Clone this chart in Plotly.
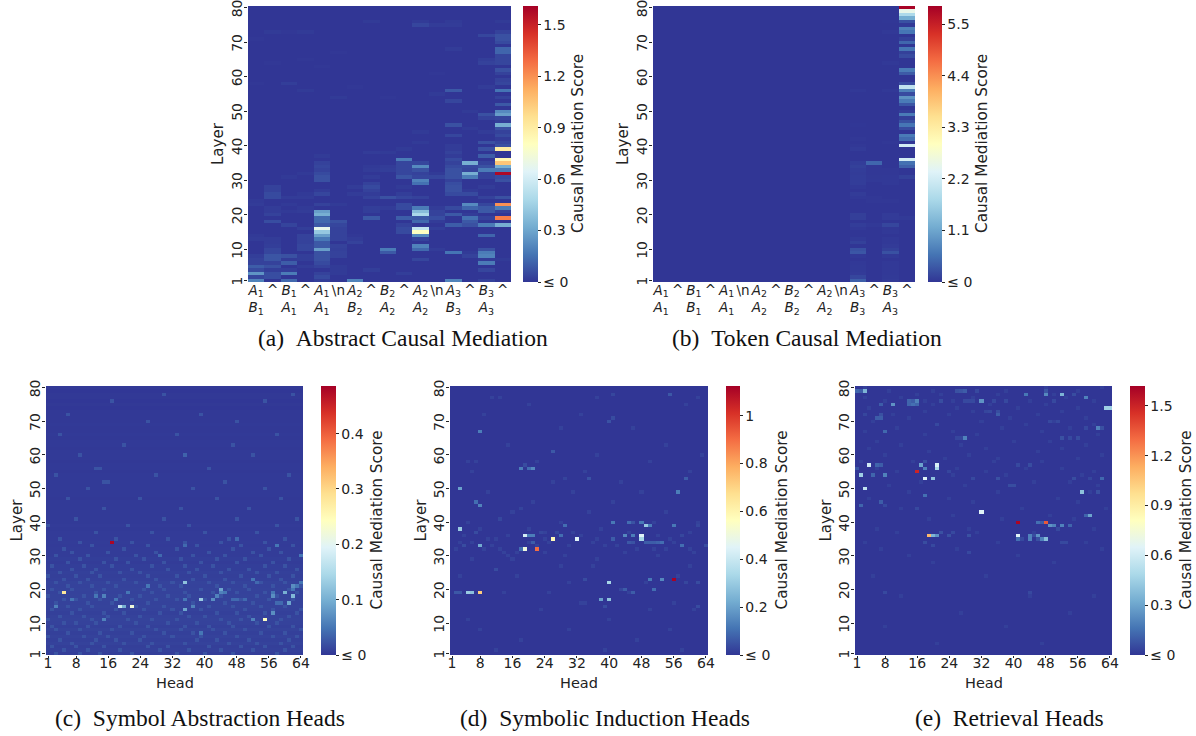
import plotly.graph_objects as go

W, H = 1196, 736
LAYER_TICKS = [1, 10, 20, 30, 40, 50, 60, 70, 80]
HEAD_TICKS = [1, 8, 16, 24, 32, 40, 48, 56, 64]
COLORSCALE = ["#313695", "#4575b4", "#74add1", "#abd9e9", "#e0f3f8", "#ffffbf",
              "#fee090", "#fdae61", "#f46d43", "#d73027", "#a50026"]

A_TOP = ["A1", "^", "B1", "^", "A1", "\\n", "A2", "^", "B2", "^", "A2", "\\n", "A3", "^", "B3", "^"]
A_BOTTOM = ["B1", "", "A1", "", "A1", "", "B2", "", "A2", "", "A2", "", "B3", "", "A3", ""]
B_BOTTOM = ["A1", "", "B1", "", "A1", "", "A2", "", "B2", "", "A2", "", "B3", "", "A3", ""]

# Panel (a): one {layer: score} per token column
A_COLUMNS = [
    {1: .2, 2: .04, 3: .25, 4: .05, 5: .1, 6: .03, 7: .03, 8: .02, 13: .015, 14: .01, 23: .015, 24: .01, 58: .006, 71: .006},
    {2: .06, 3: .06, 4: .02, 5: .07, 6: .03, 7: .08, 8: .08, 9: .04, 10: .04, 11: .02, 12: .015, 13: .015, 18: .06, 20: .03, 21: .015, 22: .015,
     25: .05, 26: .05, 27: .03, 28: .03, 73: .012, 64: .006},
    {1: .13, 3: .18, 4: .02, 6: .1, 7: .015, 8: .07, 17: .035, 21: .01, 23: .01, 25: .015, 31: .01, 58: .02, 73: .006},
    {5: .015, 7: .02, 8: .02, 10: .04, 11: .04, 12: .03, 13: .03, 14: .03, 16: .02, 21: .015, 22: .01, 25: .015, 26: .01, 32: .01, 56: .012, 65: .006, 73: .012},
    {1: .02, 2: .05, 3: .03, 5: .03, 6: .05, 7: .07, 8: .07, 9: .07, 10: .28, 11: .09, 12: .09, 13: .17, 14: .28, 15: .42, 16: .68, 17: .09, 18: .13,
     19: .13, 20: .33, 21: .28, 23: .03, 26: .04, 27: .015, 30: .07, 31: .07, 32: .05, 33: .03, 34: .04, 35: .03, 37: .012, 63: .006},
    {3: .012, 4: .012, 5: .012, 8: .03, 9: .03, 10: .025, 11: .03, 13: .03, 14: .03, 15: .03, 16: .03, 17: .04, 18: .07, 23: .012, 54: .012, 67: .006},
    {1: .2, 12: .03, 13: .015, 14: .006, 26: .015, 28: .015, 57: .006},
    {4: .02, 19: .09, 21: .02, 22: .02, 25: .03, 26: .015, 27: .03, 28: .05, 29: .03, 31: .015, 33: .015, 34: .01, 38: .015, 76: .012},
    {9: .09, 10: .18, 22: .015, 25: .07, 33: .02, 34: .015, 38: .012, 54: .006},
    {3: .02, 15: .05, 16: .05, 17: .03, 19: .1, 22: .05, 23: .05, 25: .04, 26: .02, 28: .012, 31: .08, 32: .04, 33: .04, 34: .04, 35: .04, 36: .18, 39: .012},
    {7: .04, 10: .13, 11: .2, 13: .03, 14: .22, 15: .8, 16: .55, 18: .13, 19: .09, 20: .48, 21: .38, 22: .18, 25: .03, 29: .15, 30: .2, 31: .04,
     32: .03, 33: .07, 34: .22, 35: .04, 41: .012, 44: .012, 75: .04, 76: .012},
    {10: .015, 16: .02, 18: .015, 19: .06, 20: .03, 21: .03, 22: .015, 31: .04, 32: .012, 55: .012, 61: .006, 75: .015},
    {1: .2, 9: .16, 17: .1, 20: .09, 22: .05, 26: .05, 27: .07, 28: .07, 29: .06, 30: .03, 31: .07, 32: .07, 33: .07, 34: .05, 35: .03, 36: .05, 37: .015,
     38: .03, 39: .015, 40: .015, 43: .04, 46: .07, 53: .04, 56: .09, 68: .015, 75: .015, 76: .012},
    {8: .03, 9: .012, 17: .07, 18: .09, 19: .15, 20: .015, 22: .12, 23: .22, 26: .05, 27: .012, 31: .18, 32: .33, 33: .04, 34: .05, 35: .33, 45: .012, 50: .012},
    {1: .03, 4: .04, 6: .18, 7: .015, 8: .2, 9: .18, 10: .07, 14: .12, 17: .18, 19: .03, 21: .09, 22: .09, 23: .04, 25: .03, 28: .015, 31: .03, 32: .03,
     33: .18, 34: .07, 35: .03, 37: .1, 39: .07, 41: .07, 44: .015, 48: .03, 49: .07, 57: .015, 64: .03, 65: .02, 72: .04},
    {7: .012, 17: .33, 19: 1.25, 21: .03, 22: .18, 23: 1.2, 25: .07, 30: .07, 31: .05, 32: 1.58, 33: .18, 34: .33, 35: 1.05, 36: .85, 39: .9, 40: .07, 41: .04,
     42: .015, 43: .05, 44: .03, 45: .07, 46: .33, 47: .02, 48: .04, 49: .28, 50: .22, 52: .09, 54: .03, 56: .16, 58: .04, 59: .03, 61: .03, 62: .07, 64: .04,
     65: .04, 66: .04, 67: .12, 68: .12, 70: .05, 71: .07, 72: .07, 73: .03, 76: .012},
]

# Panel (b): only the last columns carry visible scores
B_A3 = {1: .38, 2: .15, 3: .05, 4: .04, 5: .04, 6: .03, 8: .03, 9: .3, 10: .25, 12: .1, 13: .04, 16: .03, 17: .07, 19: .08, 20: .08, 25: .03, 26: .06,
        28: .03, 29: .07, 30: .07, 31: .07, 32: .06, 33: .07, 34: .1, 35: .07, 39: .05, 40: .015, 42: .015, 46: .012, 56: .03}
B_CARET_2 = {17: .03, 24: .015, 25: .015, 30: .03, 31: .025, 32: .02, 33: .02, 34: .02, 35: .45}
B_B3 = {1: .05, 2: .04, 3: .03, 4: .03, 5: .03, 6: .03, 8: .04, 9: .25, 10: .1, 11: .05, 12: .03, 13: .03, 15: .03, 16: .02, 17: .15, 19: .05, 20: .05,
        24: .02, 29: .03, 30: .03, 31: .03, 32: .02, 33: .015, 41: .015, 64: .03, 73: .03, 76: .012, 56: .03}
B_CARET_3 = {19: .04, 31: .1, 34: .4, 35: .55, 36: 2.2, 40: 2.2, 42: .5, 43: .65, 45: .2, 46: .6, 47: .25, 48: .08, 49: .65, 50: .07, 52: .3, 53: .65,
             54: .9, 55: .2, 56: .7, 57: 2.0, 58: .2, 61: .35, 62: .65, 66: .2, 67: .1, 68: .6, 70: .45, 71: .1, 73: .6, 74: .7, 75: .03, 76: .25,
             77: 1.2, 78: 1.8, 79: 2.5, 80: 5.85}

# Head panels: (head, layer, score) as read from the bright cells
C_CELLS = [(17, 34, .48), (5, 19, .28), (19, 15, .17), (20, 15, .1), (22, 15, .22), (35, 22, .12), (35, 14, .09), (39, 17, .13), (37, 15, .06),
           (42, 17, .07), (43, 18, .06), (44, 20, .09), (44, 19, .06), (45, 19, .05), (55, 11, .24), (57, 13, .07), (60, 19, .1), (62, 18, .11),
           (61, 16, .09), (57, 18, .07), (62, 21, .07), (52, 11, .06), (3, 15, .06), (7, 17, .05), (13, 18, .05), (15, 18, .06), (15, 11, .06),
           (18, 17, .05), (21, 19, .05), (26, 21, .05), (39, 7, .05), (35, 17, .05), (52, 23, .05), (64, 30, .05), (48, 35, .04), (58, 33, .05),
           (29, 30, .04), (35, 33, .04), (35, 60, .035), (57, 19, .05), (62, 20, .05), (63, 21, .05), (64, 22, .05), (50, 17, .04), (47, 17, .04),
           (48, 17, .04), (58, 16, .04), (59, 16, .04), (53, 22, .04)]
C_LAYER_BASE = [.006, .008, .007, .009, .008, .009, .008, .010, .008, .009, .010, .009, .008, .009, .010, .009, .010, .010, .009, .010,
                .009, .010, .008, .007, .008, .006, .006, .005, .006, .005, .005, .005, .004, .005, .004, .004, .004, .003, .004, .003,
                .003, .003, .003, .003, .003, .003, .002, .003, .003, .003, .003, .003, .003, .003, .002, .003, .003, .002, .003, .003,
                .003, .002, .003, .003, .002, .003, .002, .002, .003, .002, .002, .002, .002, .001, .002, .001, .002, .002, .001, .002]
C_LAYER_FAINT = {
    1: [3, 9, 14, 22, 33, 40, 47, 58], 2: [5, 11, 19, 29, 36, 44, 52, 60], 3: [2, 8, 15, 26, 31, 41, 49, 55, 62], 4: [7, 12, 20, 27, 35, 46, 53, 59],
    5: [4, 13, 18, 24, 38, 43, 51, 61], 6: [1, 10, 16, 25, 32, 39, 48, 57, 63], 7: [6, 14, 22, 30, 37, 45, 54, 60], 8: [3, 9, 17, 28, 34, 42, 50, 64],
    9: [2, 11, 19, 26, 35, 41, 47, 56, 62], 10: [5, 8, 13, 23, 31, 38, 46, 53, 58], 11: [1, 12, 21, 27, 33, 44, 49, 59], 12: [4, 10, 16, 24, 36, 40, 51, 61],
    13: [7, 15, 20, 29, 34, 43, 48, 55, 63], 14: [2, 9, 18, 25, 32, 39, 50, 57, 64], 15: [6, 12, 23, 30, 41, 47, 54, 60], 16: [3, 11, 17, 26, 37, 45, 52, 59],
    17: [5, 8, 14, 22, 28, 33, 40, 49, 56, 62], 18: [1, 10, 19, 24, 31, 36, 44, 53, 58], 19: [4, 13, 21, 27, 35, 42, 48, 55, 63], 20: [2, 7, 15, 25, 30, 39, 46, 51, 61],
    21: [6, 12, 18, 29, 34, 43, 50, 57, 64], 22: [3, 9, 16, 23, 32, 41, 47, 54, 60], 23: [5, 11, 20, 28, 37, 45, 52, 59], 24: [1, 8, 14, 26, 33, 40, 49, 56, 62],
    25: [4, 12, 19, 24, 36, 44, 53, 58], 26: [7, 13, 22, 31, 38, 46, 51, 63], 27: [2, 10, 17, 27, 35, 42, 55, 60], 28: [6, 15, 21, 30, 39, 48, 57], 29: [9, 18, 25, 34, 43, 50, 61],
    30: [3, 11, 23, 37, 45, 54, 64], 31: [7, 16, 28, 41, 52, 59], 32: [5, 20, 33, 47, 56], 33: [12, 26, 38, 49, 62], 34: [9, 22, 35, 44, 55], 35: [4, 18, 31, 46, 60],
    37: [13, 27, 40, 53], 39: [1, 21, 36, 58], 41: [8, 30, 48, 63], 44: [15, 34, 51], 47: [6, 24, 43, 59], 50: [11, 37, 55], 52: [15, 16, 45], 54: [3, 28, 61], 56: [13, 14, 41],
    60: [9, 35, 52], 63: [20, 47], 66: [4, 33, 58], 70: [26, 48], 72: [6, 39], 76: [17, 55], 78: [30, 62]}

D_CELLS = [(56, 23, 1.12), (22, 32, .9), (8, 19, .72), (5, 19, .3), (6, 19, .27), (2, 19, .06), (3, 19, .06), (19, 36, .42), (20, 36, .13), (21, 36, .13),
           (21, 34, .07), (18, 32, .1), (19, 32, .5), (26, 35, .58), (32, 35, .45), (28, 36, .1), (3, 38, .3), (3, 50, .2), (8, 33, .22), (8, 45, .14),
           (7, 46, .1), (8, 67, .13), (18, 56, .13), (21, 56, .15), (20, 56, .1), (19, 57, .04), (40, 22, .33), (40, 17, .28), (38, 17, .2), (39, 15, .04),
           (51, 20, .1), (44, 20, .07), (46, 19, .07), (50, 23, .12), (53, 23, .15), (41, 40, .12), (45, 40, .1), (46, 40, .05), (48, 40, .12), (49, 39, .3),
           (50, 39, .13), (56, 39, .12), (29, 39, .1), (44, 36, .15), (46, 36, .13), (48, 36, .45), (48, 35, .33), (45, 34, .06), (46, 34, .05), (41, 35, .07),
           (49, 34, .07), (50, 34, .07), (51, 34, .07), (52, 34, .08), (53, 34, .1), (58, 33, .1), (57, 49, .13), (59, 53, .07), (35, 53, .05), (26, 61, .06),
           (40, 70, .05), (41, 71, .04), (55, 78, .06), (41, 78, .03), (62, 15, .04), (62, 22, .04), (13, 41, .03), (7, 37, .04), (12, 26, .04), (34, 23, .04),
           (43, 20, .03), (58, 36, .03), (27, 37, .03), (23, 37, .03), (29, 53, .025), (18, 44, .025), (4, 33, .04), (64, 33, .04), (59, 22, .03), (62, 39, .03)]
D_LAYER_FAINT = {
    2: [12, 39, 58], 5: [18, 47], 8: [8, 30, 55], 11: [5, 40], 14: [23, 50, 61], 16: [33, 34, 56], 19: [14, 25, 45], 22: [30, 49], 24: [3, 17, 57], 27: [28, 36, 60],
    29: [6, 16, 37], 30: [15, 29, 52], 31: [14, 17, 24, 44, 61], 32: [2, 9, 13, 47, 51, 54, 60], 33: [11, 22, 30, 39, 42], 34: [3, 6, 20, 25, 36, 56], 35: [10, 12, 24, 37, 55],
    36: [4, 15, 33, 52], 37: [24, 31, 45, 60], 38: [8, 20, 38], 40: [5, 28, 51, 62], 43: [16, 35, 54], 46: [21, 41], 49: [10, 31, 48], 52: [26, 43], 55: [6, 34, 60],
    58: [5, 7, 22, 50], 60: [37, 63], 63: [15, 54], 68: [28, 46], 72: [9, 33], 75: [20, 59], 77: [11, 13, 37, 62]}

E_CELLS = [(16, 55, 1.5), (41, 40, 1.6), (48, 40, 1.35), (19, 36, 1.1), (20, 36, .35), (21, 36, .25), (32, 43, .65), (18, 53, .65), (20, 53, .4), (21, 57, .62),
           (21, 56, .48), (18, 56, .2), (17, 57, .3), (4, 57, .6), (3, 50, .55), (2, 54, .45), (8, 54, .2), (5, 54, .12), (6, 57, .12), (7, 57, .1), (41, 36, .65),
           (41, 35, .15), (44, 36, .2), (44, 35, .2), (46, 36, .25), (47, 35, .2), (48, 35, .38), (49, 39, .25), (50, 39, .2), (52, 39, .2), (54, 39, .12), (46, 40, .15),
           (47, 40, .1), (59, 42, .3), (58, 42, .12), (57, 49, .4), (63, 74, .45), (64, 74, .45), (61, 68, .2), (62, 68, .07), (52, 78, .35), (48, 78, .22), (43, 78, .17),
           (58, 77, .2), (3, 79, .35), (1, 79, .12), (2, 79, .1), (10, 75, .25), (15, 75, .15), (16, 75, .12), (14, 75, .12), (14, 76, .12), (15, 76, .1), (16, 76, .2),
           (7, 75, .1), (32, 76, .25), (28, 65, .2), (8, 67, .13), (6, 71, .1), (7, 71, .1), (7, 72, .07), (2, 45, .12), (7, 46, .1), (8, 45, .05), (18, 48, .15), (16, 44, .05),
           (62, 53, .13), (61, 49, .07), (28, 79, .1), (27, 79, .08), (26, 79, .07), (31, 79, .05), (36, 73, .06), (36, 72, .1), (28, 76, .05), (29, 76, .05), (30, 76, .05),
           (29, 36, .07), (22, 37, .07), (24, 36, .07), (18, 34, .06), (20, 33, .05), (29, 31, .05), (53, 34, .05), (52, 34, .05), (44, 19, .05), (8, 19, .05), (52, 65, .07),
           (54, 65, .05), (56, 65, .06), (26, 65, .04), (27, 65, .04), (36, 53, .07), (39, 51, .06), (40, 51, .06), (30, 53, .05), (48, 79, .08), (50, 76, .05), (55, 78, .06),
           (41, 57, .05), (44, 57, .06), (49, 70, .05), (51, 70, .05), (22, 76, .06), (21, 69, .05), (18, 58, .07), (3, 72, .04), (55, 53, .06), (33, 73, .04), (34, 73, .05),
           (38, 76, .05), (35, 76, .05), (25, 37, .05), (1, 56, .08), (24, 55, .04), (59, 53, .04), (58, 68, .05), (45, 36, .06), (46, 35, .07), (42, 35, .05), (51, 38, .05)]
E_LAYER_FAINT = {
    4: [21, 47], 9: [8, 38], 13: [27, 54], 18: [12, 44, 60], 24: [33, 5], 28: [20, 50], 30: [14, 41], 32: [7, 26, 62], 34: [3, 36, 58], 37: [11, 31, 45], 38: [6, 29, 60],
    41: [19, 37, 55], 42: [25, 49], 44: [12, 42, 63], 46: [30, 56], 47: [4, 24, 51], 49: [14, 36, 59], 51: [9, 28, 61], 52: [17, 45, 54], 54: [25, 38, 57], 55: [11, 33, 60],
    56: [6, 26, 43, 52], 58: [2, 15, 35, 47], 59: [23, 36, 56], 60: [8, 29, 62], 61: [19, 46], 62: [4, 33, 52], 63: [12, 27, 58], 64: [6, 40, 49], 66: [18, 31, 61], 67: [3, 25, 47],
    68: [11, 37, 54], 69: [21, 43, 60], 70: [5, 32, 50], 71: [14, 39, 58], 72: [10, 24, 46], 73: [18, 30, 52], 74: [4, 26, 41, 56], 75: [20, 34, 48], 76: [8, 18, 25, 44, 60],
    77: [3, 12, 30, 53], 78: [16, 22, 36, 50], 79: [9, 20, 38, 56], 80: [3, 48, 62]}


def from_columns(cols):
    z = [[0.0] * len(cols) for _ in range(80)]
    for c, col in enumerate(cols):
        for layer, v in col.items():
            z[layer - 1][c] = v
    return z


def from_cells(cells, faint, faint_value, base=None):
    z = [[(base[r] if base else 0.0)] * 64 for r in range(80)]
    for layer, heads in faint.items():
        for h in heads:
            z[layer - 1][h - 1] = faint_value
    for h, layer, v in cells:
        z[layer - 1][h - 1] = v
    return z


def token_label(tok, bottom):
    def fmt(t):
        return f"<i>{t[0]}</i><sub>{t[1]}</sub>" if len(t) == 2 and t[0] in "AB" else t
    return fmt(tok) + ("<br>" + fmt(bottom) if bottom else "")


PANELS = [
    dict(z=from_columns(A_COLUMNS), zmax=1.61, rect=(248, 6, 511, 282), cbar=(523, 538), cx=578, lx=218, cap="(a)  Abstract Causal Mediation", capx=403, capy=338,
         cbt=[0, .3, .6, .9, 1.2, 1.5], cbl=["≤ 0", "0.3", "0.6", "0.9", "1.2", "1.5"], xt=list(range(16)), xl=[token_label(a, b) for a, b in zip(A_TOP, A_BOTTOM)], xr=(-.5, 15.5), xtitle=None),
    dict(z=from_columns([{}] * 12 + [B_A3, B_CARET_2, B_B3, B_CARET_3]), zmax=5.89, rect=(653, 6, 915, 282), cbar=(928, 942), cx=982, lx=623, cap="(b)  Token Causal Mediation", capx=807, capy=338,
         cbt=[0, 1.1, 2.2, 3.3, 4.4, 5.5], cbl=["≤ 0", "1.1", "2.2", "3.3", "4.4", "5.5"], xt=list(range(16)), xl=[token_label(a, b) for a, b in zip(A_TOP, B_BOTTOM)], xr=(-.5, 15.5), xtitle=None),
    dict(z=from_cells(C_CELLS, C_LAYER_FAINT, .022, C_LAYER_BASE), zmax=.486, rect=(46, 386, 303, 655), cbar=(321, 336), cx=376, lx=16, cap="(c)  Symbol Abstraction Heads", capx=200, capy=718,
         cbt=[0, .1, .2, .3, .4], cbl=["≤ 0", "0.1", "0.2", "0.3", "0.4"], xt=HEAD_TICKS, xl=[str(v) for v in HEAD_TICKS], xr=(.5, 64.5), xtitle="Head"),
    dict(z=from_cells(D_CELLS, D_LAYER_FAINT, .022), zmax=1.124, rect=(450, 386, 708, 655), cbar=(726, 740), cx=781, lx=420, cap="(d)  Symbolic Induction Heads", capx=605, capy=718,
         cbt=[0, .2, .4, .6, .8, 1], cbl=["≤ 0", "0.2", "0.4", "0.6", "0.8", "1"], xt=HEAD_TICKS, xl=[str(v) for v in HEAD_TICKS], xr=(.5, 64.5), xtitle="Head"),
    dict(z=from_cells(E_CELLS, E_LAYER_FAINT, .025), zmax=1.62, rect=(855, 386, 1112, 655), cbar=(1130, 1145), cx=1185, lx=825, cap="(e)  Retrieval Heads", capx=1009, capy=718,
         cbt=[0, .3, .6, .9, 1.2, 1.5], cbl=["≤ 0", "0.3", "0.6", "0.9", "1.2", "1.5"], xt=HEAD_TICKS, xl=[str(v) for v in HEAD_TICKS], xr=(.5, 64.5), xtitle="Head"),
]

FONT = "DejaVu Sans"
fig = go.Figure()
layout = {}
notes = []
for i, p in enumerate(PANELS, start=1):
    x0, y0, x1, y1 = p["rect"]
    xa, ya = f"xaxis{i}", f"yaxis{i}"
    nz = len(p["z"][0])
    xs = list(range(nz)) if p["xtitle"] is None else list(range(1, nz + 1))
    fig.add_trace(go.Heatmap(
        z=p["z"], x=xs, y=list(range(1, 81)), xaxis=f"x{i}", yaxis=f"y{i}",
        zmin=0, zmax=p["zmax"], colorscale=COLORSCALE, xgap=0, ygap=0,
        colorbar=dict(x=p["cbar"][0] / W, xanchor="left", y=1 - y1 / H, yanchor="bottom", len=(y1 - y0) / H, lenmode="fraction",
                      thickness=p["cbar"][1] - p["cbar"][0], thicknessmode="pixels", outlinewidth=0, xpad=0, ypad=0,
                      tickmode="array", tickvals=p["cbt"], ticktext=p["cbl"], ticks="outside", ticklen=3, tickwidth=1,
                      tickcolor="#222", tickfont=dict(family=FONT, size=14, color="#222"))))
    layout[xa] = dict(domain=[x0 / W, x1 / W], range=list(p["xr"]), anchor=f"y{i}", tickmode="array", tickvals=p["xt"], ticktext=p["xl"],
                      tickangle=0, ticks="outside" if p["xtitle"] else "", ticklen=2, tickcolor="#222", showgrid=False, zeroline=False,
                      ticklabelstandoff=-7 if p["xtitle"] else -2, ticklabeloverflow="allow",
                      tickfont=dict(family=FONT, size=14 if p["xtitle"] else 13.5, color="#222"))
    layout[ya] = dict(domain=[1 - y1 / H, 1 - y0 / H], range=[.5, 80.5], anchor=f"x{i}", tickmode="array", tickvals=LAYER_TICKS,
                      ticktext=[f"{v}\u2009\u2009" for v in LAYER_TICKS], tickangle=-90, ticks="outside", ticklen=3, tickcolor="#222", showgrid=False, zeroline=False,
                      ticklabelstandoff=-4, ticklabeloverflow="allow", tickfont=dict(family=FONT, size=14, color="#222"))
    ym = (y0 + y1) / 2
    notes.append(dict(text="Layer", x=p["lx"] / W, y=1 - ym / H, textangle=-90, font=dict(family=FONT, size=15, color="#222")))
    notes.append(dict(text="Causal Mediation Score", x=p["cx"] / W, y=1 - ym / H, textangle=-90, font=dict(family=FONT, size=15.3, color="#222")))
    notes.append(dict(text=p["cap"].replace("  ", "\u2002"), x=p["capx"] / W, y=1 - p["capy"] / H, font=dict(family="Liberation Serif", size=23.5, color="#111")))
    if p["xtitle"]:
        notes.append(dict(text=p["xtitle"], x=(x0 + x1) / 2 / W, y=1 - 683 / H, font=dict(family=FONT, size=14.5, color="#222")))

fig.update_layout(width=W, height=H, margin=dict(l=0, r=0, t=0, b=0, autoexpand=False), paper_bgcolor="white", plot_bgcolor="white", showlegend=False,
                  annotations=[dict(n, xref="paper", yref="paper", xanchor="center", yanchor="middle", showarrow=False) for n in notes], **layout)
fig.write_html("out.html", post_script="document.body.style.margin='0';", config={"displayModeBar": False})
